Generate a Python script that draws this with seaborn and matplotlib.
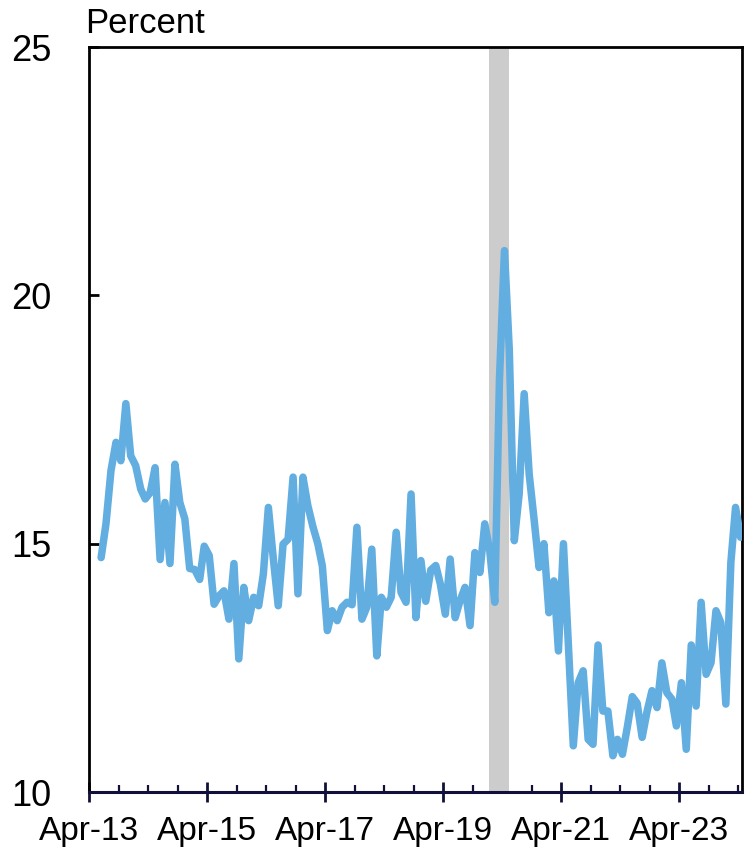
import matplotlib
matplotlib.use("Agg")
import matplotlib.pyplot as plt
import matplotlib.dates as mdates
import seaborn as sns
import pandas as pd
import numpy as np

# ---- data ----
start_month = "2013-06-01"
end_month = "2024-04-01"
values = [14.72, 15.4, 16.47, 17.04, 16.67, 17.82, 16.77, 16.57, 16.1, 15.9,
          16.03, 16.53, 14.68, 15.83, 14.6, 16.6, 15.83, 15.5, 14.5, 14.48,
          14.28, 14.95, 14.76, 13.78, 13.95, 14.05, 13.48, 14.6, 12.68, 14.12,
          13.45, 13.92, 13.75, 14.39, 15.73, 14.72, 13.75, 14.99, 15.09, 16.34,
          13.99, 16.34, 15.77, 15.35, 15.0, 14.55, 13.25, 13.65, 13.45, 13.72,
          13.82, 13.77, 15.33, 13.48, 13.72, 14.89, 12.74, 13.92, 13.72, 13.92,
          15.23, 14.02, 13.82, 16.0, 13.51, 14.66, 13.84, 14.47, 14.56, 14.19,
          13.58, 14.69, 13.51, 13.85, 14.12, 13.35, 14.82, 14.42, 15.4, 14.86,
          13.82, 18.3, 20.9, 18.9, 15.06, 16.0, 18.02, 16.4, 15.5, 14.52,
          15.0, 13.61, 14.25, 12.84, 15.0, 13.0, 10.93, 12.2, 12.44, 11.06,
          10.96, 12.96, 11.63, 11.63, 10.73, 11.06, 10.76, 11.3, 11.92, 11.79,
          11.1, 11.63, 12.04, 11.7, 12.6, 12.0, 11.87, 11.33, 12.2, 10.86,
          12.96, 11.73, 13.82, 12.37, 12.6, 13.65, 13.41, 11.77, 14.62, 15.73,
          15.13]
recession = ["2020-01-10", "2020-05-12"]
x_tick_dates = ["2013-04-01", "2015-04-01", "2017-04-01", "2019-04-01", "2021-04-01", "2023-04-01"]
x_tick_labels = ["Apr-13", "Apr-15", "Apr-17", "Apr-19", "Apr-21", "Apr-23"]
y_ticks = [10, 15, 20, 25]
y_tick_labels = ["10", "15", "20", "25"]
y_label = "Percent"

dates = pd.date_range(start_month, end_month, freq="MS") + pd.Timedelta(days=14)
df = pd.DataFrame({"date": dates, "value": values})

sns.set_style("white")
plt.rcParams["font.family"] = ["Liberation Sans", "DejaVu Sans"]
plt.rcParams["text.color"] = "black"
plt.rcParams["xtick.labelcolor"] = "black"
plt.rcParams["ytick.labelcolor"] = "black"

fig = plt.figure(figsize=(7.46, 8.51), dpi=100)
ax = fig.add_axes([89/746, 1-792/851, (742-89)/746, (792-47)/851])

ax.axvspan(pd.Timestamp(recession[0]), pd.Timestamp(recession[1]), color="#cccccc", lw=0, zorder=1)
sns.lineplot(data=df, x="date", y="value", ax=ax, color="#62aee1", lw=5.4,
             solid_joinstyle="round", solid_capstyle="round", zorder=3)

ax.set_xlim(pd.Timestamp("2013-04-01"), pd.Timestamp("2024-04-24"))
ax.set_ylim(10, 25)
ax.set_xlabel("")
ax.set_ylabel("")

ax.set_xticks([pd.Timestamp(d) for d in x_tick_dates])
ax.set_xticklabels(x_tick_labels, fontsize=24)
ax.xaxis.set_minor_locator(mdates.MonthLocator(bymonth=[4, 10]))
ax.set_yticks(y_ticks)
ax.set_yticklabels(y_tick_labels, fontsize=26)

navy = "#10103a"
ax.tick_params(axis="x", which="major", direction="inout", length=14, width=2,
               color=navy, pad=10, bottom=True)
ax.tick_params(axis="x", which="minor", direction="in", length=5, width=1.6,
               color=navy, bottom=True)
ax.tick_params(axis="y", which="major", direction="in", length=7, width=2,
               color="black", pad=27, left=True)

for s in ["left", "right", "top"]:
    ax.spines[s].set_visible(True)
    ax.spines[s].set_color("black")
    ax.spines[s].set_linewidth(2)
ax.spines["bottom"].set_color(navy)
ax.spines["bottom"].set_linewidth(2.2)
ax.spines["bottom"].set_zorder(5)

fig.text(85/746, 1-33/851, y_label, fontsize=25, ha="left", va="baseline")

fig.savefig("out.png", dpi=100)
